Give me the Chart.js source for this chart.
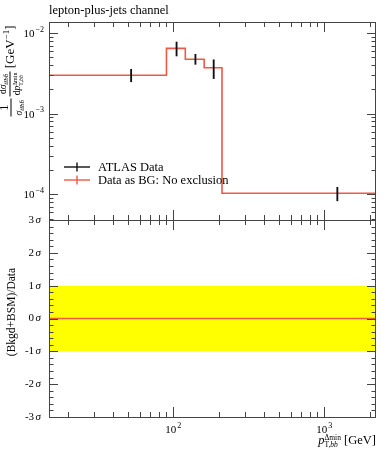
<!DOCTYPE html>
<html>
<head>
<meta charset="utf-8">
<script src="https://cdn.jsdelivr.net/npm/chart.js@4/dist/chart.umd.min.js"></script>
<style>
  html, body { margin:0; padding:0; background:#fff; }
  body { width:389px; height:450px; position:relative; overflow:hidden; font-family:"Liberation Serif", "DejaVu Serif", serif; color:#000; }
  canvas { position:absolute; left:0; }
  #c1 { top:0; }
  #c2 { top:200px; }
  .lbl { position:absolute; white-space:nowrap; }
  #title { left:49px; top:3px; font-size:12.5px; }
  .rot { transform: translate(-50%,-50%) rotate(-90deg); }
  #ylab1 { left:11px; top:71px; font-size:13px; }
  #ylab2 { left:11px; top:312px; font-size:11.5px; }
  #xlab { right:13px; top:433px; font-size:12.5px; }
  .frac { display:inline-block; vertical-align:middle; text-align:center; font-size:9.5px; line-height:9.5px; }
  .frac .n { display:block; border-bottom:0.8px solid #000; padding:0 1px 1px 1px; }
  .frac .d { display:block; padding:1px 1px 0 1px; }
  .frac.big { font-size:13px; line-height:12px; }
  .ss { display:inline-block; vertical-align:middle; font-size:7.5px; line-height:7.5px; text-align:left; }
  .ss span { display:block; }
  sub, sup { font-size:7px; line-height:0; }
</style>
</head>
<body>
<canvas id="c1" width="389" height="240"></canvas>
<canvas id="c2" width="389" height="250"></canvas>
<div id="title" class="lbl">lepton-plus-jets channel</div>
<div id="ylab1" class="lbl rot"><span class="frac big"><span class="n">1</span><span class="d" style="font-size:9.5px;"><i>σ</i><sub><i>tt̄bb̄</i></sub></span></span>&thinsp;<span class="frac"><span class="n">d<i>σ</i><sub><i>tt̄bb̄</i></sub></span><span class="d">d<i>p</i><span class="ss" style="font-size:6px;line-height:6px;"><span>Δmin</span><span>T,<i>bb</i></span></span></span></span> [GeV<sup style="font-size:9px;">−1</sup>]</div>
<div id="ylab2" class="lbl rot">(Bkgd+BSM)/Data</div>
<div id="xlab" class="lbl"><i>p</i><span class="ss"><span>Δmin</span><span>T,<i>bb</i></span></span> [GeV]</div>
<script>
// ---------------- data ----------------
const binEdges   = [15, 90, 120, 160, 210, 2200];          // GeV
const dataX      = [52.5, 105, 140, 185, 1220];            // data point positions
const dataY      = [3.0e-3, 6.45e-3, 4.72e-3, 3.71e-3, 1.03e-4];
const dataLow    = [2.49e-3, 5.19e-3, 4.09e-3, 2.72e-3, 0.83e-4];
const dataHigh   = [3.55e-3, 7.74e-3, 5.45e-3, 4.66e-3, 1.22e-4];
const bgY        = [3.0e-3, 6.45e-3, 4.72e-3, 3.71e-3, 1.03e-4]; // Data as BG
const ratioY     = [0, 0, 0, 0, 0];
const bandUp     = [1, 1, 1, 1, 1];
const bandDown   = [-1, -1, -1, -1, -1];
const xRange     = [15, 2200];
const yRange     = [4.8e-5, 1.37e-2];
const yMajorExp  = [-4, -3, -2];          // y tick labels 10^-4 .. 10^-2
const xMajorExp  = [2, 3];                // x tick labels 10^2, 10^3
const ratioTicks = [-3, -2, -1, 0, 1, 2, 3];
const seriesNames = ['ATLAS Data', 'Data as BG: No exclusion'];

const RED = '#ee5a44';
const FRAME = '#444';
const FONT = '"Liberation Serif", "DejaVu Serif", serif';

function stepPoints(edges, vals) {
  const pts = [];
  vals.forEach((v, i) => { pts.push({x: edges[i], y: v}); pts.push({x: edges[i+1], y: v}); });
  return pts;
}

function logMinorValues(lo, hi) {
  const out = [];
  for (let k = Math.floor(Math.log10(lo)) - 1; k <= Math.ceil(Math.log10(hi)); k++) {
    for (let m = 1; m <= 9; m++) {
      const v = m * Math.pow(10, k);
      if (v >= lo * 0.999 && v <= hi * 1.001) out.push({v, major: m === 1});
    }
  }
  return out;
}

function drawLine(ctx, x1, y1, x2, y2) { ctx.beginPath(); ctx.moveTo(x1, y1); ctx.lineTo(x2, y2); ctx.stroke(); }

function drawPow(ctx, exp, x, yMid, anchor) {
  const base = '10', ex = (exp < 0 ? '−' : '') + Math.abs(exp);
  ctx.font = '11px ' + FONT;
  const wb = ctx.measureText(base).width;
  ctx.font = '8px ' + FONT;
  const we = ctx.measureText(ex).width + 1;
  const total = wb + we;
  const x0 = anchor === 'right' ? x - total : x - total / 2;
  ctx.textAlign = 'left';
  ctx.textBaseline = 'middle';
  ctx.font = '11px ' + FONT;
  ctx.fillText(base, x0, yMid + 1);
  ctx.font = '8px ' + FONT;
  ctx.fillText(ex, x0 + wb + 1, yMid - 3.5);
}

function framePlugin(opts) {
  return {
    id: 'frame' + opts.name,
    afterDatasetsDraw(chart) {
      const {ctx, chartArea: a, scales} = chart;
      ctx.save();
      ctx.strokeStyle = FRAME;
      ctx.lineWidth = 1;
      ctx.strokeRect(Math.round(a.left) + 0.5, Math.round(a.top) + 0.5, Math.round(a.right - a.left) - 1, Math.round(a.bottom - a.top));
      const xs = scales.x;
      logMinorValues(xRange[0], xRange[1]).forEach(t => {
        const px = Math.round(xs.getPixelForValue(t.v)) + 0.5;
        if (px <= a.left + 1 || px >= a.right - 1) return;
        const L = t.major ? 10 : 5;
        drawLine(ctx, px, a.top, px, a.top + L);
        drawLine(ctx, px, a.bottom, px, a.bottom - L);
      });
      const ys = scales.y;
      opts.yTicks().forEach(t => {
        const py = Math.round(ys.getPixelForValue(t.v)) + 0.5;
        const L = t.major ? 9 : 4.5;
        drawLine(ctx, a.left, py, a.left + L, py);
        drawLine(ctx, a.right, py, a.right - L, py);
      });
      ctx.fillStyle = '#000';
      opts.labels(ctx, xs, ys, a);
      ctx.restore();
    }
  };
}

const legendPlugin = {
  id: 'insideLegend',
  afterDraw(chart) {
    const ctx = chart.ctx;
    const rows = [
      {label: chart.data.datasets[0].label, color: chart.data.datasets[0].borderColor, y: 167},
      {label: chart.data.datasets[1].label, color: chart.data.datasets[1].borderColor, y: 180}
    ];
    ctx.save();
    rows.forEach(r => {
      ctx.strokeStyle = r.color;
      ctx.lineWidth = 1.4;
      drawLine(ctx, 64, r.y, 90, r.y);
      drawLine(ctx, 77, r.y - 4.5, 77, r.y + 4.5);
      ctx.fillStyle = '#000';
      ctx.font = '12.5px ' + FONT;
      ctx.textBaseline = 'middle';
      ctx.textAlign = 'left';
      ctx.fillText(r.label, 98, r.y + 0.5);
    });
    ctx.restore();
  }
};

const errBars = dataX.map((x, i) => ({x, y: [dataLow[i], dataHigh[i]]}));

new Chart(document.getElementById('c1'), {
  data: {
    datasets: [
      { type: 'bar', label: seriesNames[0], data: errBars, backgroundColor: '#111', borderColor: '#111',
        barThickness: 1.2, order: 0 },
      { type: 'line', label: seriesNames[1], data: stepPoints(binEdges, bgY), borderColor: RED, borderWidth: 1.6,
        pointRadius: 0, fill: false, tension: 0, order: 1 }
    ]
  },
  options: {
    responsive: false, animation: false, devicePixelRatio: 1,
    layout: { padding: { left: 49, right: 13, top: 22, bottom: 20 } },
    plugins: { legend: { display: false }, tooltip: { enabled: false } },
    scales: {
      x: { type: 'logarithmic', min: xRange[0], max: xRange[1], display: false },
      y: { type: 'logarithmic', min: yRange[0], max: yRange[1], display: false }
    }
  },
  plugins: [framePlugin({
    name: 'top',
    yTicks: () => logMinorValues(yRange[0], yRange[1]),
    labels: (ctx, xs, ys, a) => {
      yMajorExp.forEach(e => drawPow(ctx, e, 44, ys.getPixelForValue(Math.pow(10, e)), 'right'));
    }
  }), legendPlugin]
});

new Chart(document.getElementById('c2'), {
  data: {
    datasets: [
      { type: 'line', label: '-1 sigma', data: stepPoints(binEdges, bandDown), borderWidth: 0, pointRadius: 0, fill: false, order: 3 },
      { type: 'line', label: '+1 sigma', data: stepPoints(binEdges, bandUp), borderWidth: 0, pointRadius: 0,
        fill: '-1', backgroundColor: '#ffff00', order: 2 },
      { type: 'line', label: seriesNames[1], data: stepPoints(binEdges, ratioY), borderColor: RED, borderWidth: 1.6,
        pointRadius: 0, fill: false, order: 1 }
    ]
  },
  options: {
    responsive: false, animation: false, devicePixelRatio: 1,
    layout: { padding: { left: 49, right: 13, top: 20, bottom: 33 } },
    plugins: { legend: { display: false }, tooltip: { enabled: false }, filler: { propagate: false } },
    scales: {
      x: { type: 'logarithmic', min: xRange[0], max: xRange[1], display: false },
      y: { type: 'linear', min: -3, max: 3, display: false }
    }
  },
  plugins: [framePlugin({
    name: 'bot',
    yTicks: () => {
      const out = [];
      for (let i = -15; i <= 15; i++) out.push({v: i / 5, major: i % 5 === 0});
      return out;
    },
    labels: (ctx, xs, ys, a) => {
      xMajorExp.forEach(e => drawPow(ctx, e, xs.getPixelForValue(Math.pow(10, e)), a.bottom + 12, 'center'));
      ratioTicks.forEach(v => {
        const py = ys.getPixelForValue(v);
        ctx.textBaseline = 'middle';
        ctx.textAlign = 'right';
        ctx.font = 'italic 11px ' + FONT;
        const ws = ctx.measureText('σ').width;
        ctx.fillText('σ', 41, py);
        ctx.font = '11px ' + FONT;
        ctx.fillText(String(v), 41 - ws - 1.5, py);
      });
    }
  })]
});
</script>
</body>
</html>
